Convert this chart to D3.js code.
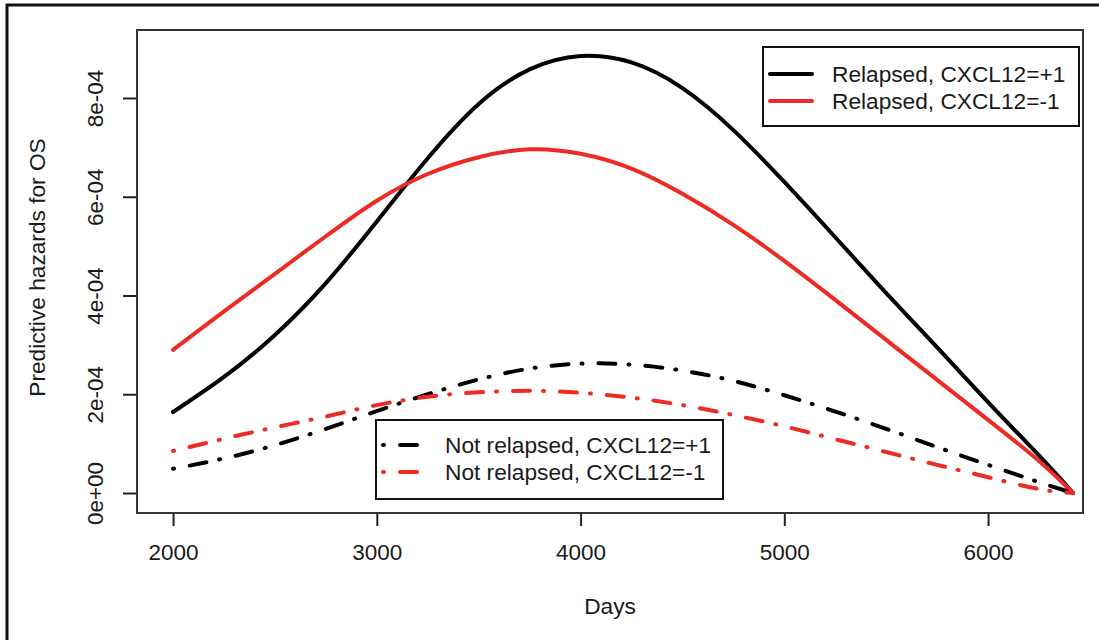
<!DOCTYPE html>
<html>
<head>
<meta charset="utf-8">
<script src="https://d3js.org/d3.v7.min.js"></script>
<style>
  body { margin: 0; background: #fff; }
  svg { display: block; font-family: "Liberation Sans", Arial, sans-serif; }
  .axis text { font-size: 22.5px; fill: #1a1a1a; }
  .axis line { stroke: #222; stroke-width: 2px; }
</style>
</head>
<body>
<svg></svg>
<script>

var days = [2000, 2250, 2500, 2750, 3000, 3250, 3500, 3750, 4000, 4250, 4500, 4750, 5000, 5250, 5500, 5750, 6000, 6250, 6417];

// predictive hazards, in units of 1e-4
var relapsedPos    = [1.64, 2.35, 3.20, 4.25, 5.50, 6.78, 7.88, 8.58, 8.85, 8.72, 8.20, 7.35, 6.30, 5.18, 4.05, 2.95, 1.84, 0.76, 0];
var relapsedNeg    = [2.90, 3.68, 4.44, 5.20, 5.92, 6.46, 6.80, 6.96, 6.87, 6.57, 6.06, 5.43, 4.70, 3.91, 3.10, 2.29, 1.48, 0.65, 0];
var notRelapsedPos = [0.49, 0.70, 0.97, 1.30, 1.66, 2.00, 2.30, 2.52, 2.62, 2.60, 2.48, 2.27, 1.98, 1.65, 1.30, 0.93, 0.57, 0.22, 0];
var notRelapsedNeg = [0.85, 1.10, 1.33, 1.55, 1.78, 1.95, 2.04, 2.07, 2.03, 1.93, 1.78, 1.58, 1.35, 1.09, 0.83, 0.57, 0.32, 0.08, 0];

var xTicks = [2000, 3000, 4000, 5000, 6000];
var yTicks = [0, 2e-4, 4e-4, 6e-4, 8e-4];
var yTickLabels = ["0e+00", "2e-04", "4e-04", "6e-04", "8e-04"];

var seriesNames = ["Relapsed, CXCL12=+1", "Relapsed, CXCL12=-1", "Not relapsed, CXCL12=+1", "Not relapsed, CXCL12=-1"];

var RED = "#ee2a24", BLACK = "#000";
var DOTDASH = "1,16,17,13";

var margin = {top: 30, right: 16, bottom: 127, left: 137},
    width = 1099 - margin.left - margin.right,
    height = 640 - margin.top - margin.bottom;

var x = d3.scaleLinear().domain([1823, 6466]).range([0, width]);
var y = d3.scaleLinear().domain([-0.405e-4, 9.377e-4]).range([height, 0]);

var svg = d3.select("svg")
    .attr("width", 1099)
    .attr("height", 640);

// outer figure frame (right and bottom edges fall off the page)
svg.append("rect")
    .attr("x", 7).attr("y", 5)
    .attr("width", 1110).attr("height", 650)
    .attr("fill", "none")
    .attr("stroke", "#111")
    .attr("stroke-width", 3);

var chart = svg.append("g")
    .attr("transform", "translate(" + margin.left + "," + margin.top + ")");

// axes
var xAxis = d3.axisBottom(x).tickValues(xTicks).tickSize(13).tickFormat(d3.format("d"));
var yAxis = d3.axisLeft(y).tickValues(yTicks).tickSize(14)
    .tickFormat(function(d, i) { return yTickLabels[i]; });

var gx = chart.append("g")
    .attr("class", "axis")
    .attr("transform", "translate(0," + height + ")")
    .call(xAxis);
gx.select(".domain").remove();
gx.selectAll("text").attr("y", 31).attr("dy", "0.71em");

var gy = chart.append("g")
    .attr("class", "axis")
    .call(yAxis);
gy.select(".domain").remove();
gy.selectAll("text")
    .attr("transform", "rotate(-90)")
    .attr("x", 0)
    .attr("y", -34)
    .attr("dy", 0)
    .style("text-anchor", "middle");

// plot box
chart.append("rect")
    .attr("width", width)
    .attr("height", height)
    .attr("fill", "none")
    .attr("stroke", "#333")
    .attr("stroke-width", 2);

// axis titles
svg.append("text")
    .attr("x", margin.left + width / 2)
    .attr("y", 614)
    .attr("text-anchor", "middle")
    .style("font-size", "22.7px")
    .style("fill", "#1a1a1a")
    .text("Days");

svg.append("text")
    .attr("transform", "translate(45," + (margin.top + height / 2 - 4) + ") rotate(-90)")
    .attr("text-anchor", "middle")
    .style("font-size", "22.7px")
    .style("fill", "#1a1a1a")
    .text("Predictive hazards for OS");

// curves
var series = [
  {name: seriesNames[0], values: relapsedPos, color: BLACK, dash: null},
  {name: seriesNames[1], values: relapsedNeg, color: RED, dash: null},
  {name: seriesNames[2], values: notRelapsedPos, color: BLACK, dash: DOTDASH},
  {name: seriesNames[3], values: notRelapsedNeg, color: RED, dash: DOTDASH}
];

var line = d3.line()
    .x(function(d, i) { return x(days[i]); })
    .y(function(d) { return y(d * 1e-4); })
    .curve(d3.curveNatural);

chart.selectAll(".curve")
    .data(series)
    .enter().append("path")
    .attr("class", "curve")
    .attr("d", function(d) { return line(d.values); })
    .attr("fill", "none")
    .attr("stroke", function(d) { return d.color; })
    .attr("stroke-width", 4)
    .attr("stroke-linecap", "round")
    .attr("stroke-dasharray", function(d) { return d.dash; });

// legends
function legend(items, bx, by, bw, bh, rowY, lineX0, lineX1, textX) {
  var g = svg.append("g");
  g.append("rect")
      .attr("x", bx).attr("y", by)
      .attr("width", bw).attr("height", bh)
      .attr("fill", "#fff")
      .attr("stroke", "#111")
      .attr("stroke-width", 2);
  items.forEach(function(s, i) {
    g.append("line")
        .attr("x1", lineX0).attr("x2", lineX1)
        .attr("y1", rowY[i]).attr("y2", rowY[i])
        .attr("stroke", s.color)
        .attr("stroke-width", 4)
        .attr("stroke-linecap", "round")
        .attr("stroke-dasharray", s.dash);
    g.append("text")
        .attr("x", textX)
        .attr("y", rowY[i])
        .attr("dy", "0.36em")
        .style("font-size", "22.7px")
        .style("fill", "#1a1a1a")
        .text(s.name);
  });
}

legend(series.slice(0, 2), 763, 47, 316, 79, [74, 101], 770, 812, 832);
legend(series.slice(2, 4), 376, 420, 347, 79, [445, 472], 383, 420, 445);

</script>
</body>
</html>
